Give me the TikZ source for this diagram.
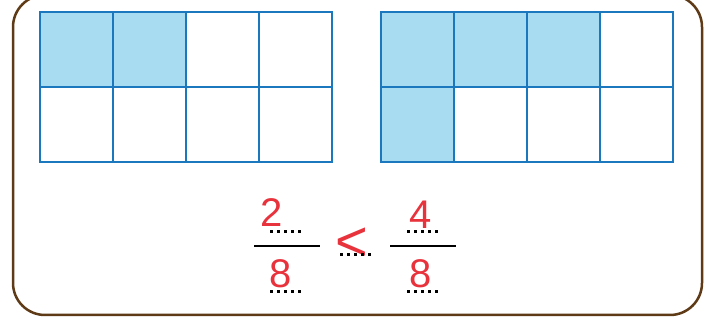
\documentclass[tikz,border=0pt]{standalone}
\usepackage{fontspec}
\setmainfont{Liberation Sans}
\definecolor{gridblue}{HTML}{1C78BE}
\definecolor{cellfill}{HTML}{A8DDF1}
\definecolor{framebrown}{HTML}{5E3A17}
\definecolor{inkred}{HTML}{E8323C}
\tikzset{
  cell/.style={draw=gridblue,line width=2.3pt},
  shaded/.style={cell,fill=cellfill},
  ink/.style={text=inkred,font=\fontsize{40}{40}\selectfont,inner sep=0pt},
  fracbar/.style={draw=black,line width=1.6pt},
  blank/.style={draw=black,line width=3pt,dash pattern=on 2.5pt off 4.5pt}
}
\begin{document}
\begin{tikzpicture}[x=1pt,y=-1pt]
\useasboundingbox (0,0) rectangle (723,320);
\begin{scope}
\clip (0,0) rectangle (723,320);
\draw[framebrown,line width=2.5pt,rounded corners=32pt] (13,-5) rectangle (702,315);
\end{scope}
% left grid
\foreach \c/\r/\s in {0/0/shaded,1/0/shaded,2/0/cell,3/0/cell,0/1/cell,1/1/cell,2/1/cell,3/1/cell}{
  \draw[\s] ({40+73*\c},{12+75*\r}) rectangle ++(73,75);
}
% right grid
\foreach \c/\r/\s in {0/0/shaded,1/0/shaded,2/0/shaded,3/0/cell,0/1/shaded,1/1/cell,2/1/cell,3/1/cell}{
  \draw[\s] ({381+73*\c},{12+75*\r}) rectangle ++(73,75);
}
% fractions
\node[ink] (n1) at (272,213) {2};
\node[ink] (d1) at (281,274) {8};
\node[ink,font=\fontsize{56}{56}\selectfont] (lt) at (352,244) {<};
\node[ink] (n2) at (421,215) {4};
\node[ink] (d2) at (421,274) {8};
\coordinate (b1a) at (254,246); \coordinate (b1b) at (320,246);
\coordinate (b2a) at (390,246); \coordinate (b2b) at (456,246);
\draw[fracbar] (b1a) -- (b1b);
\draw[fracbar] (b2a) -- (b2b);
\coordinate (u1a) at (270,232); \coordinate (u1b) at (305,232);
\coordinate (v1a) at (270,292); \coordinate (v1b) at (305,292);
\coordinate (ma) at (340,255); \coordinate (mb) at (374,255);
\coordinate (u2a) at (407,232); \coordinate (u2b) at (442,232);
\coordinate (v2a) at (407,292); \coordinate (v2b) at (442,292);
\draw[blank] (u1a) -- (u1b);
\draw[blank] (v1a) -- (v1b);
\draw[blank] (ma) -- (mb);
\draw[blank] (u2a) -- (u2b);
\draw[blank] (v2a) -- (v2b);
\end{tikzpicture}
\end{document}
